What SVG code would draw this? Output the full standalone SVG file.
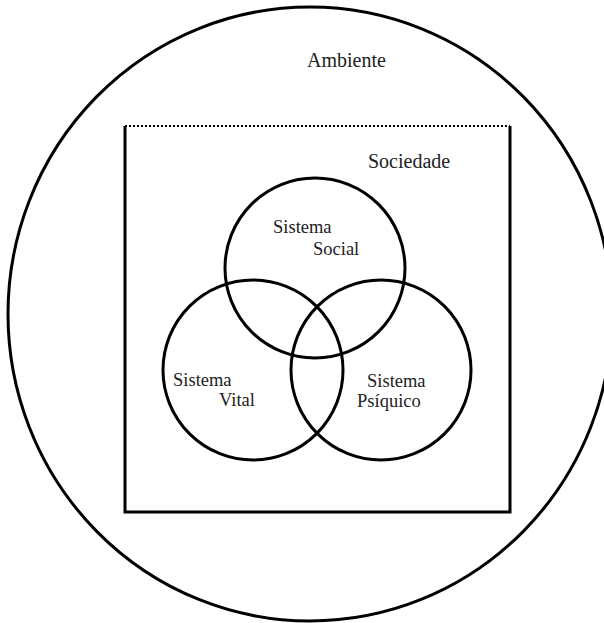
<svg xmlns="http://www.w3.org/2000/svg" width="604" height="623" viewBox="0 0 604 623">
<style>
.s{fill:none;stroke:#000;stroke-width:3}
.t{font-family:"Liberation Serif",serif;fill:#222;}
</style>
<rect width="604" height="623" fill="#fff"/>
<g id="ambiente">
<ellipse class="s" cx="310" cy="314" rx="302" ry="307"/>
<text class="t" x="307" y="67" font-size="20">Ambiente</text>
</g>
<g id="sociedade">
<path class="s" d="M125,126 V512 H510 V126"/>
<line x1="125" y1="126" x2="510" y2="126" stroke="#000" stroke-width="2" stroke-dasharray="2 2"/>
<text class="t" x="368" y="168" font-size="20">Sociedade</text>
</g>
<g id="social">
<circle class="s" cx="315" cy="268" r="90"/>
<text class="t" x="273" y="233" font-size="18.5">Sistema</text>
<text class="t" x="313" y="255" font-size="18.5">Social</text>
</g>
<g id="vital">
<circle class="s" cx="253" cy="370" r="90"/>
<text class="t" x="173" y="386" font-size="18.5">Sistema</text>
<text class="t" x="219" y="406" font-size="18.5">Vital</text>
</g>
<g id="psiquico">
<circle class="s" cx="381" cy="370" r="90"/>
<text class="t" x="367" y="387" font-size="18.5">Sistema</text>
<text class="t" x="357" y="407" font-size="18.5">Psíquico</text>
</g>
</svg>
